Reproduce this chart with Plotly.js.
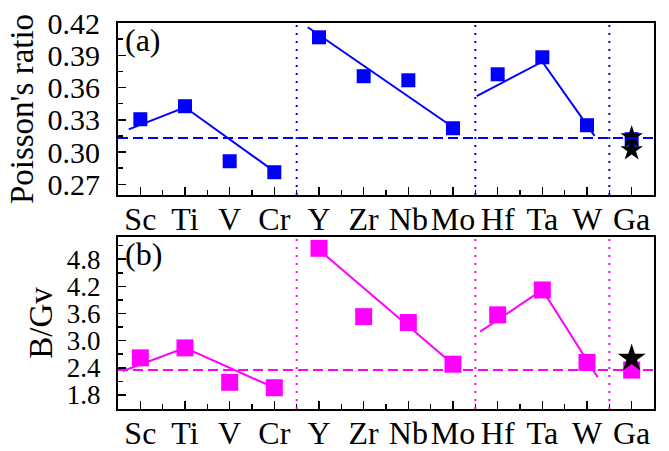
<!DOCTYPE html>
<html>
<head>
<meta charset="utf-8">
<script src="https://cdn.plot.ly/plotly-3.0.1.min.js"></script>
<style>
  html, body { margin: 0; padding: 0; background: #fff; }
  #chart { width: 669px; height: 451px; }
</style>
</head>
<body>
<div id="chart"></div>
<script>
// Transition metals plus Ga, in periodic-table order
const elements = ['Sc', 'Ti', 'V', 'Cr', 'Y', 'Zr', 'Nb', 'Mo', 'Hf', 'Ta', 'W', 'Ga'];

// Poisson's ratio per element
const poisson = [0.3305, 0.3426, 0.2914, 0.2812, 0.4067, 0.3705, 0.3667, 0.3221, 0.3723, 0.3881, 0.3249, 0.3119];
// Pugh's ratio B/Gv per element
const pugh = [2.62, 2.84, 2.08, 1.96, 5.04, 3.53, 3.40, 2.48, 3.57, 4.12, 2.52, 2.35];

// Reference values for Ga (stars)
const gaRefPoisson = [0.314, 0.302];
const gaRefPugh = [2.61];

// Trend guides for each row of the periodic table (null breaks between rows)
const trendPoissonX = [-0.26, 1, 3, null, 3.75, 7, null, 7.53, 9, 10.17];
const trendPoissonY = [0.321, 0.3416, 0.282, null, 0.416, 0.323, null, 0.352, 0.384, 0.315];
const trendPughX = [-0.39, 1, 3, null, 3.83, 7, null, 7.61, 9, 10.24];
const trendPughY = [2.33, 2.84, 1.96, null, 5.15, 2.48, null, 3.20, 4.12, 2.19];

// Ductile/brittle criteria and row separators
const criticalPoisson = 0.313;
const criticalPugh = 2.35;
const rowBreaks = [3.5, 7.5, 10.5];

const BLUE = '#0000ff';
const MAGENTA = '#ff00ff';
const FONT = 'Liberation Serif, Times New Roman, serif';

const idx = elements.map((_, i) => i);
const halfSteps = elements.slice(0, -1).map((_, i) => i + 0.5);

const traces = [
  { x: trendPoissonX, y: trendPoissonY, xaxis: 'x', yaxis: 'y', mode: 'lines',
    line: { color: BLUE, width: 2 }, connectgaps: false, hoverinfo: 'skip' },
  { x: idx, y: poisson, xaxis: 'x', yaxis: 'y', mode: 'markers',
    marker: { symbol: 'square', size: 14, color: BLUE } },
  { x: gaRefPoisson.map(() => elements.length - 1), y: gaRefPoisson, xaxis: 'x', yaxis: 'y', mode: 'markers',
    marker: { symbol: 'star', size: 17, color: '#000' } },

  { x: trendPughX, y: trendPughY, xaxis: 'x2', yaxis: 'y2', mode: 'lines',
    line: { color: MAGENTA, width: 2 }, connectgaps: false, hoverinfo: 'skip' },
  { x: idx, y: pugh, xaxis: 'x2', yaxis: 'y2', mode: 'markers',
    marker: { symbol: 'square', size: 17, color: MAGENTA } },
  { x: gaRefPugh.map(() => elements.length - 1), y: gaRefPugh, xaxis: 'x2', yaxis: 'y2', mode: 'markers',
    marker: { symbol: 'star', size: 21, color: '#000' } }
];

function xAxis(anchor) {
  return {
    anchor: anchor, domain: [0, 1], range: [-0.5, elements.length - 0.5],
    tickmode: 'array', tickvals: idx, ticktext: elements, tickangle: 0,
    ticks: 'inside', ticklen: 8, tickwidth: 1.5, tickcolor: '#000',
    minor: { tickmode: 'array', tickvals: halfSteps, ticks: 'inside', ticklen: 5, tickwidth: 1.5, tickcolor: '#000' },
    showline: true, linecolor: '#000', linewidth: 2, mirror: true,
    showgrid: false, zeroline: false, ticklabelstandoff: -5,
    tickfont: { family: FONT, size: 32, color: '#000' }
  };
}

function yAxis(anchor, domain, range, dtick, tick0, fmt, title, tickSize) {
  return {
    anchor: anchor, domain: domain, range: range,
    tick0: tick0, dtick: dtick, tickformat: fmt,
    ticks: 'inside', ticklen: 8, tickwidth: 1.5, tickcolor: '#000',
    minor: { tick0: tick0, dtick: dtick / 2, ticks: 'inside', ticklen: 5, tickwidth: 1.5, tickcolor: '#000' },
    showline: true, linecolor: '#000', linewidth: 2, mirror: true,
    showgrid: false, zeroline: false, ticklabelstandoff: 10,
    tickfont: { family: FONT, size: tickSize, color: '#000' },
    title: { text: title, font: { family: FONT, size: 33, color: '#000' }, standoff: 4 }
  };
}

const shapes = [];
rowBreaks.forEach(b => {
  shapes.push({ type: 'line', xref: 'x', yref: 'y domain', x0: b, x1: b, y0: 0, y1: 1,
    line: { color: BLUE, width: 2, dash: '2px,6px' } });
  shapes.push({ type: 'line', xref: 'x2', yref: 'y2 domain', x0: b, x1: b, y0: 0, y1: 1,
    line: { color: MAGENTA, width: 2, dash: '2px,6px' } });
});
shapes.push({ type: 'line', xref: 'x domain', yref: 'y', x0: 0, x1: 1, y0: criticalPoisson, y1: criticalPoisson,
  line: { color: BLUE, width: 2, dash: '10px,5px' } });
shapes.push({ type: 'line', xref: 'x2 domain', yref: 'y2', x0: 0, x1: 1, y0: criticalPugh, y1: criticalPugh,
  line: { color: MAGENTA, width: 2, dash: '10px,5px' } });

const layout = {
  width: 669, height: 451,
  margin: { l: 118, r: 15, t: 23, b: 42 },
  paper_bgcolor: '#fff', plot_bgcolor: '#fff',
  showlegend: false,
  xaxis: xAxis('y'),
  yaxis: yAxis('x', [0.5544, 1], [0.26, 0.42], 0.03, 0.27, '.2f', "Poisson's ratio", 30),
  xaxis2: xAxis('y2'),
  yaxis2: yAxis('x2', [0, 0.4456], [1.49, 5.29], 0.6, 1.8, '.1f', 'B/Gv', 27),
  shapes: shapes,
  annotations: [
    { text: '(a)', xref: 'x domain', yref: 'y domain', x: 0.01, y: 1, yshift: 3, xanchor: 'left', yanchor: 'top',
      showarrow: false, font: { family: FONT, size: 32, color: '#000' } },
    { text: '(b)', xref: 'x2 domain', yref: 'y2 domain', x: 0.01, y: 1, yshift: 3, xanchor: 'left', yanchor: 'top',
      showarrow: false, font: { family: FONT, size: 32, color: '#000' } }
  ]
};

Plotly.newPlot('chart', traces, layout, { staticPlot: true, displayModeBar: false });
</script>
</body>
</html>
